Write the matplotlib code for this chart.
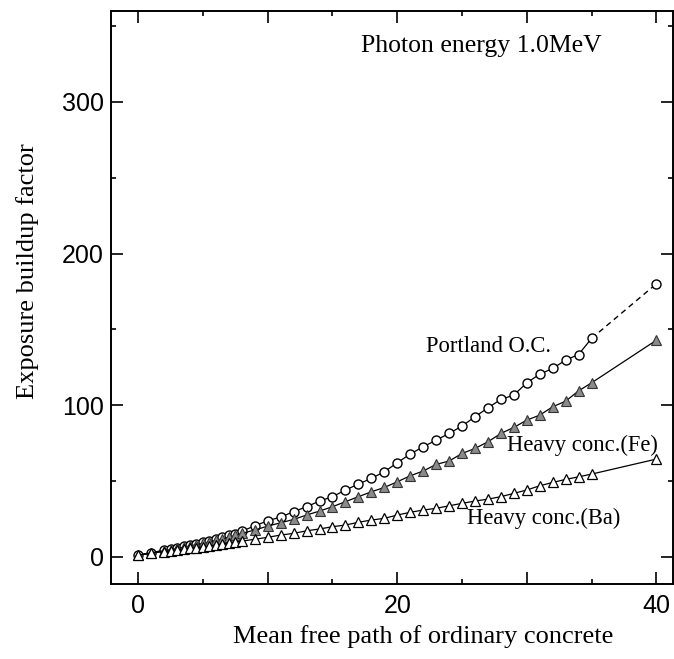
import matplotlib
matplotlib.use("Agg")
import matplotlib.pyplot as plt
from matplotlib.ticker import MultipleLocator, FuncFormatter

# ---- data ----
x_vals = [0, 1, 2, 2.5, 3, 3.5, 4, 4.5, 5, 5.5, 6, 6.5, 7, 7.5, 8,
          9, 10, 11, 12, 13, 14, 15, 16, 17, 18, 19, 20, 21, 22, 23, 24,
          25, 26, 27, 28, 29, 30, 31, 32, 33, 34, 35]
portland = [1, 2.7, 4.3, 5.0, 5.9, 6.8, 7.7, 8.6, 9.6, 10.6, 11.7, 12.8, 14.0, 15.2, 16.8,
            20.4, 23.7, 26.2, 29.7, 33.0, 36.7, 39.6, 44.0, 47.9, 51.7, 56.0, 62.0, 67.7,
            72.5, 76.9, 81.3, 86.2, 92.3, 98.2, 103.8, 106.6, 114.7, 120.4, 124.2, 129.7,
            133.4, 144.0]
portland_ext_x = [35, 40]
portland_ext = [144.0, 180.0]

x_full = x_vals + [40]
heavy_fe = [1, 2.6, 4.0, 4.7, 5.5, 6.3, 7.1, 8.0, 8.9, 9.8, 10.8, 11.8, 12.9, 14.0, 15.4,
            17.6, 20.2, 22.4, 24.6, 27.5, 30.1, 33.0, 36.3, 39.6, 42.8, 45.7, 49.4, 53.4,
            56.5, 60.9, 63.1, 68.1, 71.4, 75.8, 81.3, 85.3, 90.1, 93.4, 98.9, 102.6,
            109.4, 114.7, 142.8]
heavy_ba = [1, 2.3, 3.4, 3.9, 4.4, 4.9, 5.5, 6.0, 6.6, 7.2, 7.8, 8.4, 9.0, 9.6, 10.3,
            11.5, 12.8, 14.3, 15.4, 17.1, 18.3, 19.8, 20.9, 22.7, 24.2, 25.3, 27.5, 29.3,
            30.8, 31.9, 33.6, 35.2, 36.7, 38.0, 39.6, 41.8, 44.0, 46.8, 49.0, 51.0,
            52.7, 54.5, 64.4]

title_text = "Photon energy 1.0MeV"
xlabel = "Mean free path of ordinary concrete"
ylabel = "Exposure buildup factor"
label_portland = "Portland O.C."
label_fe = "Heavy conc.(Fe)"
label_ba = "Heavy conc.(Ba)"

serif = ["Liberation Serif", "DejaVu Serif"]
sans = ["Liberation Sans", "DejaVu Sans"]

fig = plt.figure(figsize=(6.74, 6.59), dpi=100)
ax = fig.add_axes([0.1647, 0.1138, 0.834, 0.8695])

lw = 0.9
ax.plot(x_vals, portland, '-', color='black', lw=lw, marker='o', ms=6.5,
        mfc='white', mec='black', mew=1.0, zorder=3)
ax.plot(portland_ext_x, portland_ext, '--', color='black', lw=1.0, dashes=(4, 3), zorder=2)
ax.plot([40], [180.0], 'o', ms=6.5, mfc='white', mec='black', mew=1.0, zorder=3)
ax.plot(x_full, heavy_fe, '-', color='black', lw=lw, marker='^', ms=7.5,
        mfc='#8a8a8a', mec='#333333', mew=0.8, zorder=3)
ax.plot(x_full, heavy_ba, '-', color='black', lw=lw, marker='^', ms=7,
        mfc='white', mec='black', mew=0.9, zorder=3)

ax.set_xlim(-2.1, 41.3)
ax.set_ylim(-18, 360)

ax.xaxis.set_major_locator(MultipleLocator(10))
ax.xaxis.set_minor_locator(MultipleLocator(5))
ax.xaxis.set_major_formatter(FuncFormatter(lambda v, p: f"{int(round(v))}" if round(v) % 20 == 0 else ""))
ax.yaxis.set_major_locator(MultipleLocator(100))
ax.yaxis.set_minor_locator(MultipleLocator(50))

ax.tick_params(which='both', direction='in', top=True, right=True, width=1.2)
ax.tick_params(which='major', length=8.5)
ax.tick_params(which='minor', length=3.5)
ax.tick_params(axis='x', which='major', pad=7)
ax.tick_params(axis='y', which='major', pad=5)
for lab in ax.get_xticklabels() + ax.get_yticklabels():
    lab.set_family(sans)
    lab.set_fontsize(18)

for s in ax.spines.values():
    s.set_linewidth(1.4)

ax.text(0.555, -0.092, xlabel, transform=ax.transAxes, ha='center', va='center',
        family=serif, fontsize=19)
fig.text(28 / 674, 1 - 271 / 659, ylabel, rotation=90, ha='center', va='center',
         family=serif, fontsize=19)

ax.text(17.2, 337, title_text, ha='left', va='center', family=serif, fontsize=18.5)
ax.text(22.2, 138.4, label_portland, ha='left', va='center', family=serif, fontsize=16.3)
ax.text(28.5, 73.2, label_fe, ha='left', va='center', family=serif, fontsize=16.3)
ax.text(25.35, 25.3, label_ba, ha='left', va='center', family=serif, fontsize=16.3)

fig.savefig("out.png", dpi=100)
